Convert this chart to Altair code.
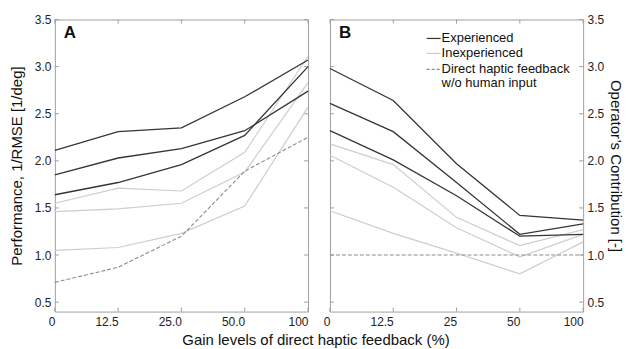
import altair as alt
import pandas as pd

# ---------------- data ----------------
gain_labels_A = ["0", "12.5", "25.0", "50.0", "100"]
gain_labels_B = ["0", "12.5", "25", "50", "100"]

exp_A = [
    [2.11, 2.31, 2.35, 2.68, 3.07],
    [1.85, 2.03, 2.13, 2.32, 2.74],
    [1.64, 1.77, 1.96, 2.27, 3.00],
]
inexp_A = [
    [1.55, 1.71, 1.68, 2.09, 3.11],
    [1.46, 1.49, 1.55, 1.88, 2.83],
    [1.05, 1.08, 1.23, 1.52, 2.57],
]
direct_A = [0.71, 0.87, 1.20, 1.89, 2.25]

exp_B = [
    [2.98, 2.64, 1.97, 1.42, 1.37],
    [2.61, 2.31, 1.77, 1.22, 1.33],
    [2.32, 2.01, 1.63, 1.20, 1.22],
]
inexp_B = [
    [2.18, 1.96, 1.40, 1.10, 1.27],
    [2.06, 1.72, 1.29, 0.98, 1.22],
    [1.47, 1.23, 1.02, 0.80, 1.14],
]
direct_B = [1.0, 1.0, 1.0, 1.0, 1.0]

y_ticks = [0.5, 1.0, 1.5, 2.0, 2.5, 3.0, 3.5]

legend_labels = ["Experienced", "Inexperienced", "Direct haptic feedback", " w/o human input"]

y_title_A = "Performance, 1/RMSE [1/deg]"
y_title_B = "Operator\u2019s Contribution [-]"
x_title = "Gain levels of direct haptic feedback (%)"

# ---------------- style ----------------
FONT = "Liberation Sans"
W, H = 254, 293
C_EXP = "#353535"
C_INEXP = "#cdcdcd"
C_DIR = "#8c8c8c"
C_FRAME = "#a0a0a0"


def long_df(series_list, labels, group):
    rows = []
    for i, s in enumerate(series_list):
        for g, v in zip(labels, s):
            rows.append({"gain": g, "value": v, "subject": f"{group}{i}", "group": group})
    return pd.DataFrame(rows)


def panel(labels, exp, inexp, direct, letter, y_orient, y_title, with_legend):
    xenc = alt.X("gain:O", sort=labels,
                 scale=alt.Scale(type="point", domain=labels, padding=0),
                 axis=alt.Axis(title=None, labelAngle=0, ticks=False, domain=False, grid=False,
                               labelFlush=False, labelOverlap=False,
                               labelFont=FONT, labelFontSize=12, labelColor="#222",
                               labelPadding=10))
    yenc = alt.Y("value:Q",
                 scale=alt.Scale(domain=[0.4, 3.5], nice=False, zero=False),
                 axis=alt.Axis(title=y_title, orient=y_orient, values=y_ticks, format=".1f",
                               ticks=False, domain=False, grid=False, labelFlush=False,
                               labelFont=FONT, labelFontSize=12, labelColor="#222",
                               labelPadding=4, titleFont=FONT, titleFontSize=15,
                               titleFontWeight="normal", titleColor="#111",
                               titlePadding=10 if y_orient == "left" else 4))

    d_in = long_df(inexp, labels, "Inexperienced")
    d_ex = long_df(exp, labels, "Experienced")
    d_dir = long_df([direct], labels, "Direct")

    l_in = alt.Chart(d_in).mark_line(color=C_INEXP, strokeWidth=1.2).encode(
        x=xenc, y=yenc, detail="subject:N")
    l_dir = alt.Chart(d_dir).mark_line(color=C_DIR, strokeWidth=1.1, strokeDash=[4, 2]).encode(
        x=xenc, y=yenc, detail="subject:N")
    l_ex = alt.Chart(d_ex).mark_line(color=C_EXP, strokeWidth=1.3).encode(
        x=xenc, y=yenc, detail="subject:N")

    # inward ticks (MATLAB style)
    ydf = pd.DataFrame({"value": y_ticks})
    xdf = pd.DataFrame({"gain": labels})
    t_left = alt.Chart(ydf).mark_rule(color=C_FRAME).encode(
        y=alt.Y("value:Q"), x=alt.value(0), x2=alt.value(4))
    t_right = alt.Chart(ydf).mark_rule(color=C_FRAME).encode(
        y=alt.Y("value:Q"), x=alt.value(W - 4), x2=alt.value(W))
    t_bot = alt.Chart(xdf).mark_rule(color=C_FRAME).encode(
        x=alt.X("gain:O", sort=labels), y=alt.value(H - 4), y2=alt.value(H))
    t_top = alt.Chart(xdf).mark_rule(color=C_FRAME).encode(
        x=alt.X("gain:O", sort=labels), y=alt.value(0), y2=alt.value(4))

    lab = alt.Chart(pd.DataFrame({"t": [letter]})).mark_text(
        font=FONT, fontSize=17, fontWeight="bold", align="left", baseline="middle", color="#111"
    ).encode(text="t:N", x=alt.value(9), y=alt.value(14))

    layers = [t_left, t_right, t_bot, t_top, l_in, l_dir, l_ex, lab]

    if with_legend:
        lx0, lx1, tx = 97, 111, 112
        ys = [19, 34, 50, 64]
        cols = [C_EXP, C_INEXP, C_DIR]
        for i in range(3):
            kw = dict(color=cols[i], strokeWidth=1.2)
            if i == 2:
                kw["strokeDash"] = [3, 2]
            layers.append(alt.Chart(pd.DataFrame({"k": [0]})).mark_rule(**kw).encode(
                x=alt.value(lx0), x2=alt.value(lx1), y=alt.value(ys[i])))
        for i, t in enumerate(legend_labels):
            layers.append(alt.Chart(pd.DataFrame({"t": [t]})).mark_text(
                font=FONT, fontSize=13, align="left", baseline="middle", color="#111"
            ).encode(text="t:N", x=alt.value(tx), y=alt.value(ys[i])))

    return alt.layer(*layers).properties(width=W, height=H)


pA = panel(gain_labels_A, exp_A, inexp_A, direct_A, "A", "left", y_title_A, False)
pB = panel(gain_labels_B, exp_B, inexp_B, direct_B, "B", "right", y_title_B, True)

chart = alt.hconcat(pA, pB, spacing=22, bounds="flush").properties(
    title=alt.TitleParams(x_title, orient="bottom", anchor="middle", font=FONT, fontSize=15,
                          fontWeight="normal", color="#111", offset=5),
    padding={"left": 0, "top": 4, "right": 0, "bottom": 0},
).configure_view(stroke=C_FRAME, strokeWidth=1).resolve_scale(y="independent")

chart.save("out.html", embed_options={"renderer": "svg", "actions": False})
